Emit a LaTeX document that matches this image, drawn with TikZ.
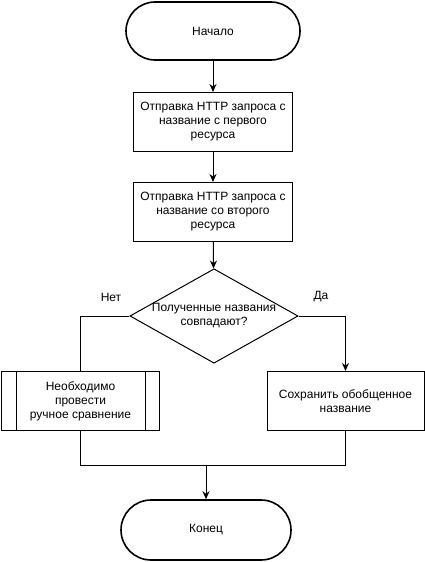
\documentclass[tikz,border=0pt]{standalone}
\usepackage{fontspec}
\setmainfont{Liberation Sans}
\usetikzlibrary{arrows.meta,shapes.geometric}

\begin{document}
\begin{tikzpicture}[x=1pt, y=-1pt, line width=1pt, >={Stealth[length=8pt,width=7pt]},
    every node/.style={font=\fontsize{12}{14}\selectfont, align=center},
    terminal/.style={draw, line width=1.6pt, rounded corners=29pt, minimum width=174pt, minimum height=58pt},
    stepbox/.style={draw, minimum width=159pt, minimum height=59pt},
    decision/.style={draw, diamond, aspect=1.78, inner sep=0pt, minimum width=164pt, minimum height=92pt}]
    \useasboundingbox (0,0) rectangle (425,562);

    % Start and requests
    \node[terminal] (start) at (213,31) {Начало};
    \node[stepbox] (send1) at (213,122) {Отправка HTTP запроса с\\название с первого\\ресурса};
    \node[stepbox] (send2) at (213,212) {Отправка HTTP запроса с\\название со второго\\ресурса};

    % Check
    \node[decision] (check) at (214,316) {Полученные названия\\совпадают?};

    % Branches
    \node[stepbox, minimum width=158pt] (manual) at (80.5,401) {Необходимо\\провести\\ручное сравнение};
    \draw ([xshift=15pt]manual.north west) -- ([xshift=15pt]manual.south west);
    \draw ([xshift=-15pt]manual.north east) -- ([xshift=-15pt]manual.south east);
    \node[stepbox, minimum width=157pt] (save) at (345.5,401) {Сохранить обобщенное\\название};
    \node (no) at (111,297) {Нет};
    \node (yes) at (321,297) {Да};

    % End
    \node[terminal, minimum width=170pt, minimum height=60pt, rounded corners=30pt] (finish) at (206,530) {Конец};
    \coordinate (merge) at (206,465);

    % Connections
    \draw[->] (start) -- (send1);
    \draw[->] (send1) -- (send2);
    \draw[->] (send2) -- (check);
    \draw (check.west) -| (manual.north);
    \draw[->] (check.east) -| (save.north);
    \draw (manual.south) |- (merge);
    \draw (save.south) |- (merge);
    \draw[->] (merge) -- (finish);
\end{tikzpicture}
\end{document}
